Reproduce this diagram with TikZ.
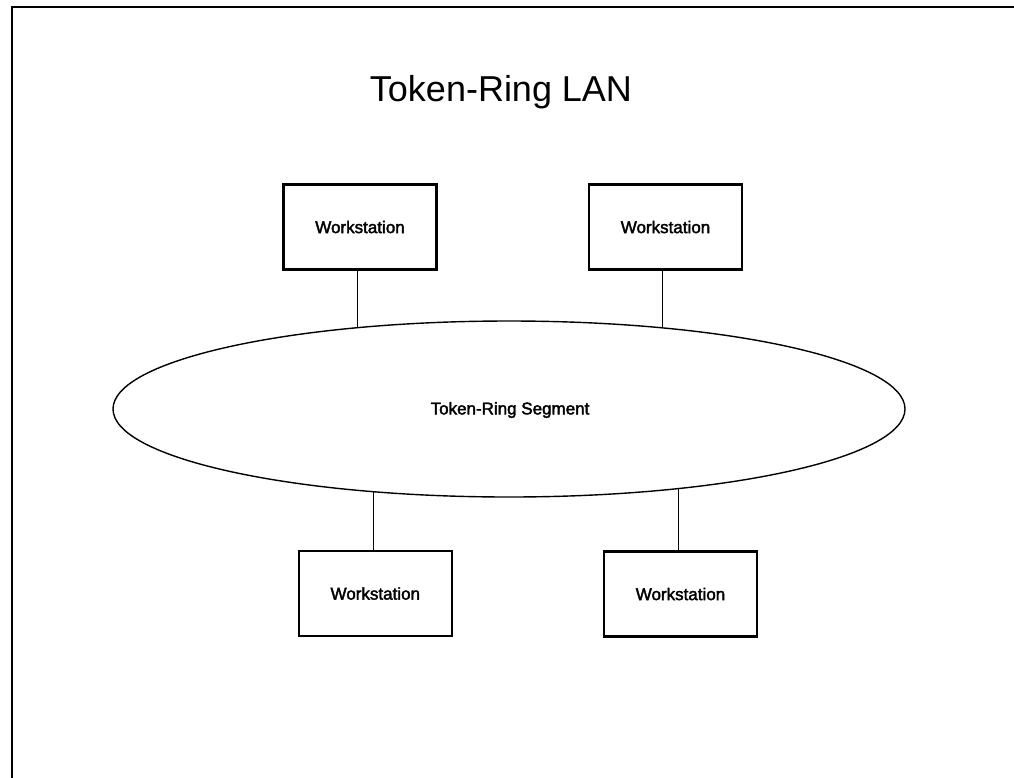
\documentclass[tikz,border=0pt]{standalone}
\usepackage{fontspec}
\setmainfont{Liberation Sans}
\newfontfamily\labelfont{Liberation Sans}[FakeBold=2.2]
\usetikzlibrary{shapes.geometric}

\tikzset{
  frameline/.style={line width=2pt, line cap=rect},
  labeltext/.style={font=\labelfont\fontsize{17}{20}\selectfont},
  station/.style={draw, line width=2.4pt, minimum width=153pt, minimum height=85pt,
    inner sep=0pt, outer sep=0pt, labeltext},
  ring/.style={draw, ellipse, line width=1.4pt, minimum width=792pt, minimum height=176pt,
    inner sep=0pt, outer sep=0pt},
  link/.style={line width=1pt},
  titletext/.style={font=\fontsize{36}{40}\selectfont, anchor=base, inner sep=0pt}
}

\begin{document}
\begin{tikzpicture}[x=1pt, y=-1pt]
  \useasboundingbox (0,0) rectangle (1014,777);

  % page frame (left and top edges)
  \draw[frameline] (12,777) -- (12,7) -- (1014,7);

  % title
  \node[titletext] (title) at (501,101) {Token-Ring LAN};

  % ring segment
  \node[ring] (seg) at (509,409) {};
  \node[labeltext, inner sep=0pt] (seglabel) at (510,410) {Token-Ring Segment};

  % workstations
  \node[station] (ws1) at (360,227) {Workstation};
  \node[station] (ws2) at (665.5,227) {Workstation};
  \node[station] (ws3) at (375.3,593.5) {Workstation};
  \node[station] (ws4) at (680.5,594) {Workstation};

  % attachment points on the ring
  \coordinate (tap1) at (357.3,327.7);
  \coordinate (tap2) at (662.3,327.9);
  \coordinate (tap3) at (373,491.6);
  \coordinate (tap4) at (678.3,488.6);

  % drops from the ring to each workstation
  \draw[link] (tap1) -- (tap1 |- ws1.south);
  \draw[link] (tap2) -- (tap2 |- ws2.south);
  \draw[link] (tap3) -- (tap3 |- ws3.north);
  \draw[link] (tap4) -- (tap4 |- ws4.north);
\end{tikzpicture}
\end{document}
